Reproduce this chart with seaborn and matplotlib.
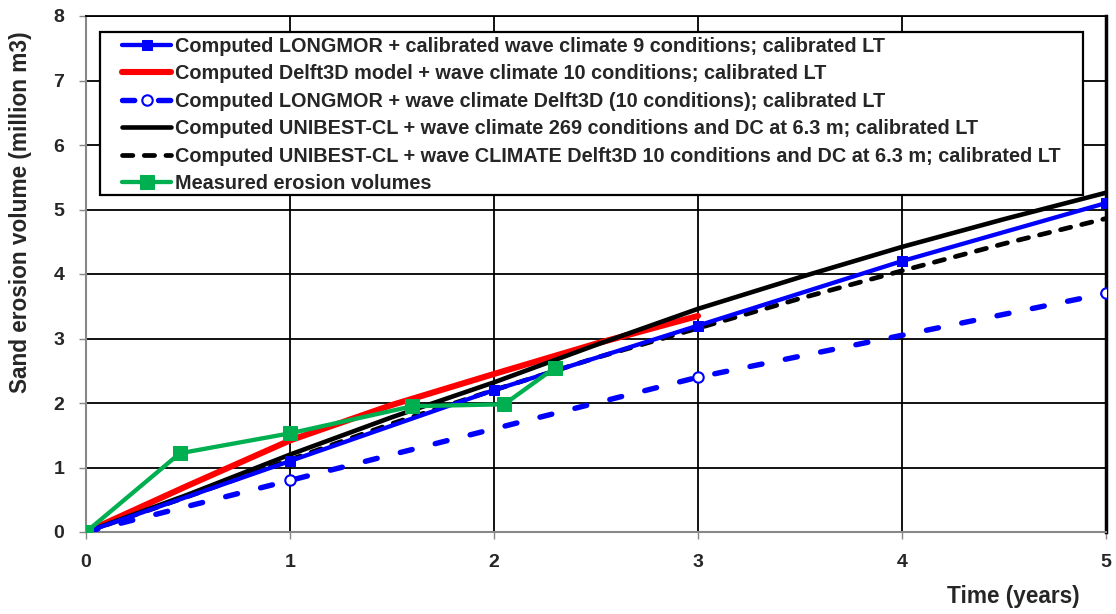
import matplotlib
matplotlib.use("Agg")
import matplotlib.pyplot as plt
from matplotlib.patches import Rectangle
import seaborn as sns

# ---- data ----
x_longmor_cal = [0, 1, 2, 3, 4, 5]
y_longmor_cal = [0, 1.10, 2.20, 3.20, 4.20, 5.10]

x_delft = [0, 0.5, 1, 1.5, 2, 2.5, 3]
y_delft = [0, 0.72, 1.42, 1.97, 2.45, 2.92, 3.35]

x_longmor_d3d = [0, 1, 3, 5]
y_longmor_d3d = [0, 0.80, 2.40, 3.70]

x_unibest269 = [0, 0.5, 1, 1.5, 2, 2.5, 3, 3.5, 4, 4.5, 5]
y_unibest269 = [0, 0.58, 1.20, 1.78, 2.32, 2.90, 3.46, 3.95, 4.42, 4.85, 5.26]

x_unibest_d3d = [0, 0.5, 1, 1.5, 2, 2.5, 3, 3.5, 4, 4.5, 5]
y_unibest_d3d = [0, 0.55, 1.12, 1.68, 2.20, 2.70, 3.16, 3.62, 4.05, 4.47, 4.86]

x_measured = [0, 0.46, 1.0, 1.6, 2.05, 2.3]
y_measured = [0, 1.22, 1.53, 1.95, 1.98, 2.55]

labels = [
    "Computed LONGMOR + calibrated wave climate 9 conditions; calibrated LT",
    "Computed Delft3D model + wave climate 10 conditions; calibrated LT",
    "Computed LONGMOR + wave climate Delft3D (10 conditions); calibrated LT",
    "Computed UNIBEST-CL + wave climate 269 conditions and DC at 6.3 m; calibrated LT",
    "Computed UNIBEST-CL + wave CLIMATE Delft3D 10 conditions and DC at 6.3 m; calibrated LT",
    "Measured erosion volumes",
]
x_ticks = [0, 1, 2, 3, 4, 5]
y_ticks = [0, 1, 2, 3, 4, 5, 6, 7, 8]
x_label = "Time (years)"
y_label = "Sand erosion volume (million m3)"

sns.set_theme(style="white")
plt.rcParams['font.family'] = ['Liberation Sans', 'DejaVu Sans']
plt.rcParams['font.weight'] = 'bold'

fig = plt.figure(figsize=(11.16, 6.14), dpi=100)
ax = fig.add_axes([86 / 1116, 1 - 532 / 614, 1020 / 1116, 516 / 614])

BLUE = "#0000FF"
RED = "#FF0000"
GREEN = "#00B050"

sns.lineplot(x=x_longmor_cal, y=y_longmor_cal, ax=ax, color=BLUE, lw=3.1,
             marker="s", markersize=7, markeredgecolor=BLUE, sort=False,
             label=labels[0], zorder=4)
sns.lineplot(x=x_delft, y=y_delft, ax=ax, color=RED, lw=4.4, sort=False,
             label=labels[1], zorder=3)
sns.lineplot(x=x_longmor_d3d, y=y_longmor_d3d, ax=ax, color=BLUE, lw=3.9,
             marker="o", markersize=7.5, markerfacecolor="white",
             markeredgecolor=BLUE, markeredgewidth=1.5, sort=False,
             label=labels[2], zorder=4)
ln = ax.lines[-1]
ln.set_dashes([2.25, 4.4])
ln.set_dash_capstyle('round')
sns.lineplot(x=x_unibest269, y=y_unibest269, ax=ax, color="black", lw=3.3,
             sort=False, label=labels[3], zorder=3)
sns.lineplot(x=x_unibest_d3d, y=y_unibest_d3d, ax=ax, color="black", lw=3.4,
             sort=False, label=labels[4], zorder=3)
ln = ax.lines[-1]
ln.set_dashes([2.2, 2.4])
ln.set_dash_capstyle('round')
sns.lineplot(x=x_measured, y=y_measured, ax=ax, color=GREEN, lw=3.1,
             marker="s", markersize=9.5, markeredgecolor=GREEN, sort=False,
             label=labels[5], zorder=5)

ax.set_xlim(0, 5)
ax.set_ylim(0, 8)
ax.set_xticks(x_ticks)
ax.set_yticks(y_ticks)
ax.set_xticklabels([str(v) for v in x_ticks], fontsize=14, fontweight='bold')
ax.set_yticklabels([str(v) for v in y_ticks], fontsize=14, fontweight='bold')
ax.grid(True, color="black", lw=1.3)
ax.set_axisbelow(True)
ax.tick_params(axis='y', which='major', length=5, width=1, color="#888888",
               direction='out', left=True, pad=10.5)
ax.tick_params(axis='x', which='major', length=5, width=1, color="#888888",
               direction='out', bottom=True, pad=10.5)
for s in ['left', 'bottom']:
    ax.spines[s].set_color("#888888")
    ax.spines[s].set_linewidth(1.5)
for s in ['top', 'right']:
    ax.spines[s].set_color("black")
ax.spines['top'].set_linewidth(1.3)
ax.spines['right'].set_linewidth(2.5)

ax.set_xlabel("")
ax.set_ylabel("")
fig.text(1080 / 1116, 1 - 597 / 614, x_label, ha='right', va='center',
         fontsize=16.3, fontweight='bold')
fig.text(21 / 1116, 1 - 212 / 614, y_label, ha='center', va='center',
         rotation=90, fontsize=16.3, fontweight='bold')

leg = ax.legend(loc="upper left", bbox_to_anchor=((122 - 86) / 1020, (532 - 37) / 516),
                frameon=False,
                prop={'family': 'Liberation Sans', 'weight': 'bold', 'size': 14.3},
                handlelength=2.47, handletextpad=0.2, labelspacing=0.425,
                borderpad=0, borderaxespad=0)
leg.set_zorder(10)
frame = Rectangle(((100 - 86) / 1020, (532 - 195) / 516), (1083 - 100) / 1020,
                  (195 - 31.7) / 516, transform=ax.transAxes, facecolor="white",
                  edgecolor="black", lw=1.6, zorder=9)
ax.add_patch(frame)

fig.savefig("out.png", dpi=100)
